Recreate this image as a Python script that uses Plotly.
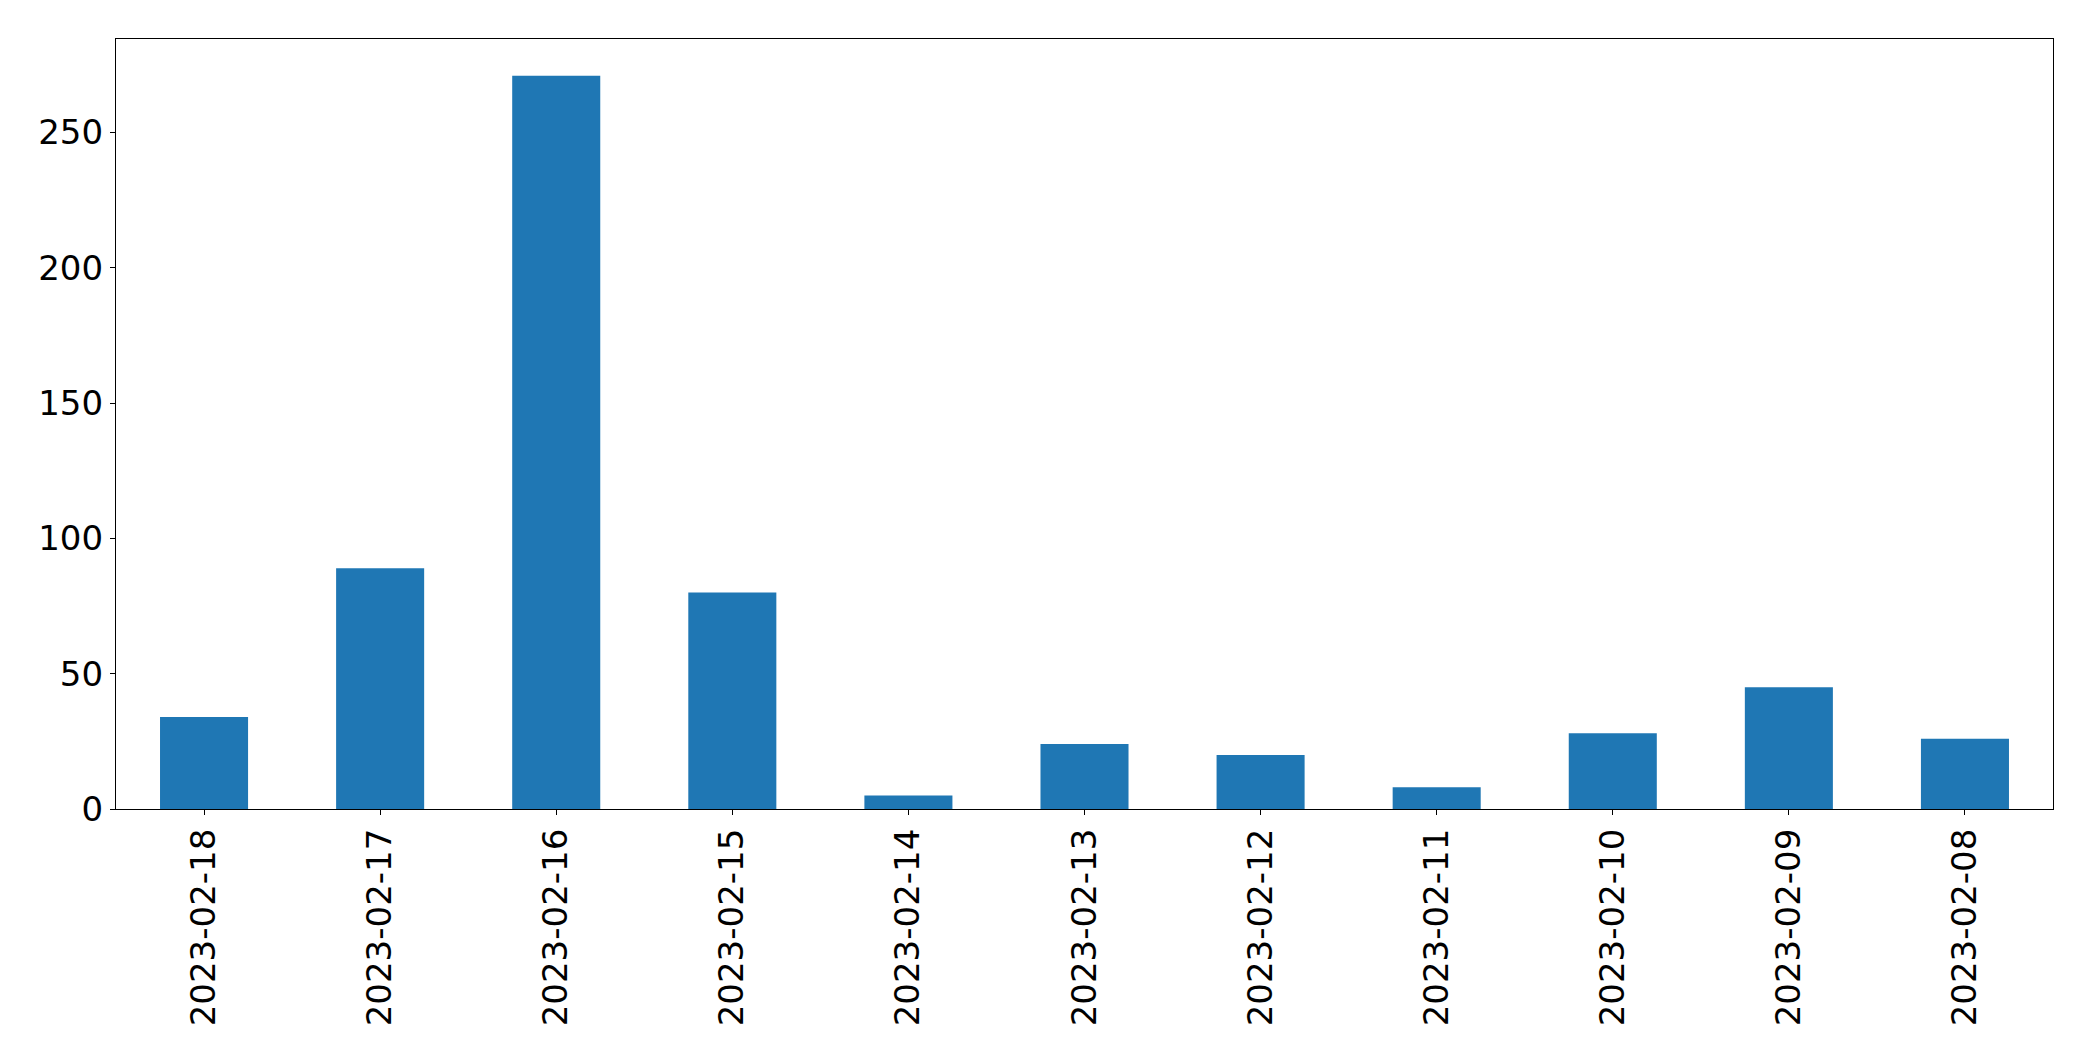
import plotly.graph_objects as go

dates = ["2023-02-18", "2023-02-17", "2023-02-16", "2023-02-15", "2023-02-14",
         "2023-02-13", "2023-02-12", "2023-02-11", "2023-02-10", "2023-02-09",
         "2023-02-08"]
counts = [34, 89, 271, 80, 5, 24, 20, 8, 28, 45, 26]
y_ticks = [0, 50, 100, 150, 200, 250]

fig = go.Figure(
    go.Bar(x=dates, y=counts, marker=dict(color="#1f77b4", line=dict(width=0)))
)

font = dict(family="DejaVu Sans", size=34, color="black")

# page body has an 8px margin, so margins are shifted accordingly
fig.update_layout(
    width=2093, height=1061,
    margin=dict(l=108, r=48, t=31, b=260),
    paper_bgcolor="white", plot_bgcolor="white",
    bargap=0.5,
    showlegend=False,
    font=font,
)
fig.update_xaxes(
    type="category",
    range=[-0.5, len(dates) - 0.5],
    tickangle=-90,
    ticks="outside", ticklen=5, tickwidth=1.2, tickcolor="black",
    showline=True, linecolor="black", linewidth=1.2, mirror=True,
    showgrid=False, zeroline=False,
    tickfont=font,
)
fig.update_yaxes(
    range=[0, max(counts) * 1.05],
    tickvals=y_ticks,
    ticktext=[str(v) for v in y_ticks],
    ticks="outside", ticklen=5, tickwidth=1.2, tickcolor="black",
    showline=True, linecolor="black", linewidth=1.2, mirror=True,
    showgrid=False, zeroline=False,
    tickfont=font,
)

fig.write_html("out.html")
